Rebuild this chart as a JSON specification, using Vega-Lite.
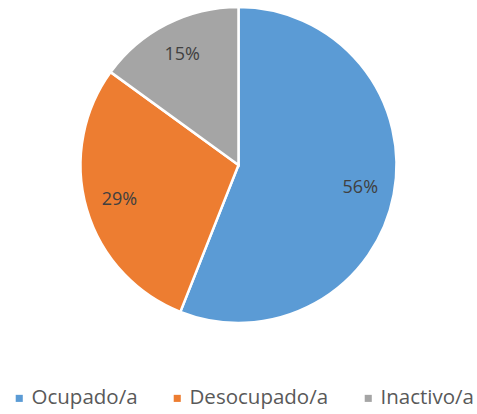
{
  "$schema": "https://vega.github.io/schema/vega-lite/v6.json",
  "width": 477,
  "height": 330,
  "padding": 0,
  "autosize": {"type": "pad"},
  "background": "white",
  "data": {
    "values": [
      {"estado": "Ocupado/a", "pct": 56, "orden": 1, "label": "56%"},
      {"estado": "Desocupado/a", "pct": 29, "orden": 2, "label": "29%"},
      {"estado": "Inactivo/a", "pct": 15, "orden": 3, "label": "15%"}
    ]
  },
  "encoding": {
    "theta": {"field": "pct", "type": "quantitative", "stack": true},
    "order": {"field": "orden", "type": "quantitative"}
  },
  "layer": [
    {
      "mark": {"type": "arc", "outerRadius": 158, "stroke": "white", "strokeWidth": 2.5},
      "encoding": {
        "color": {
          "field": "estado",
          "type": "nominal",
          "sort": ["Ocupado/a", "Desocupado/a", "Inactivo/a"],
          "scale": {"domain": ["Ocupado/a", "Desocupado/a", "Inactivo/a"], "range": ["#5B9BD5", "#ED7D31", "#A5A5A5"]},
          "legend": {
            "orient": "none",
            "legendX": 9,
            "legendY": 388,
            "direction": "horizontal",
            "title": null,
            "padding": 0,
            "symbolType": "square",
            "symbolSize": 50,
            "symbolStrokeWidth": 0,
            "symbolOffset": 0,
            "labelFontSize": 20.5,
            "labelFont": "Open Sans",
            "labelColor": "#595959",
            "labelOffset": 2,
            "columnPadding": 29
          }
        }
      }
    },
    {
      "mark": {"type": "text", "radius": 124, "fontSize": 18, "font": "Open Sans", "fill": "#404040"},
      "encoding": {"text": {"field": "label"}}
    }
  ],
  "config": {"view": {"stroke": null}}
}
